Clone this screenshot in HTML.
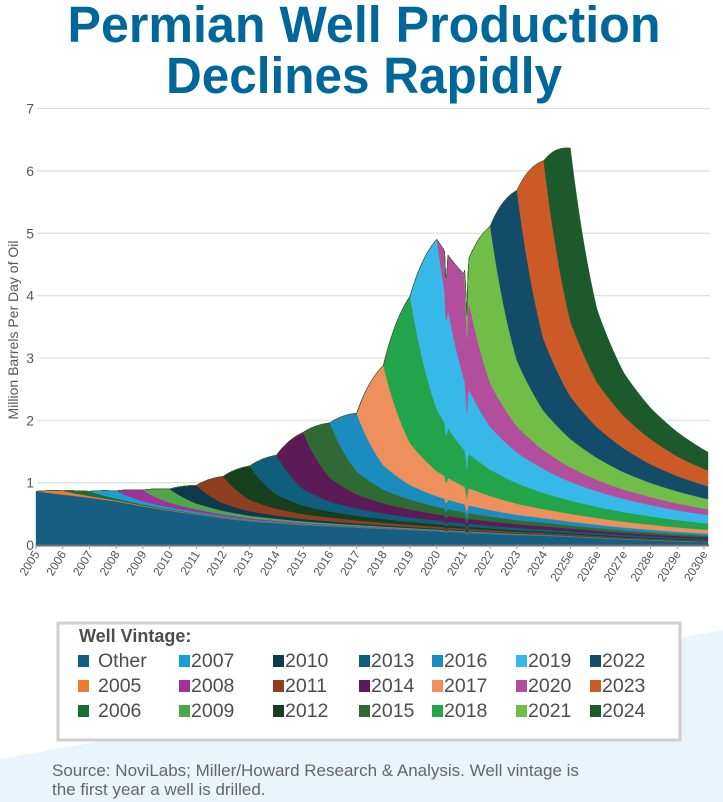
<!DOCTYPE html>
<html><head><meta charset="utf-8">
<style>
html,body{margin:0;padding:0;background:#fff;}
svg{display:block;font-family:"Liberation Sans",sans-serif;}
</style></head>
<body>
<svg id="chart" width="723" height="802" viewBox="0 0 723 802" xmlns="http://www.w3.org/2000/svg">
  <polygon points="0,759 723,630 723,802 0,802" fill="#e9f4fb"/>
  <text x="364" y="42" text-anchor="middle" font-family="'Liberation Sans Narrow','Liberation Sans',sans-serif" font-weight="bold" font-size="51" fill="#00679a" textLength="593" lengthAdjust="spacingAndGlyphs">Permian Well Production</text>
  <text x="364" y="93" text-anchor="middle" font-family="'Liberation Sans Narrow','Liberation Sans',sans-serif" font-weight="bold" font-size="51" fill="#00679a" textLength="396" lengthAdjust="spacingAndGlyphs">Declines Rapidly</text>
  <g id="grid"></g>
  <g id="areas"></g>
  <g id="axes"></g>
  <text transform="translate(18,330) rotate(-90)" text-anchor="middle" font-size="14" fill="#595959">Million Barrels Per Day of Oil</text>
  <rect x="58" y="623" width="622" height="117" fill="#fff" stroke="#cfcfcf" stroke-width="3"/>
  <text x="79" y="642" font-size="18" font-weight="bold" fill="#4d4d4d">Well Vintage:</text>
  <g id="legend"></g>
  <text x="52" y="776" font-size="17" fill="#666">Source: NoviLabs; Miller/Howard Research &amp; Analysis. Well vintage is</text>
  <text x="52" y="795" font-size="17" fill="#666">the first year a well is drilled.</text>
</svg>
<script>
// ---- data ----
const seriesNames = ["Other","2005","2006","2007","2008","2009","2010","2011","2012","2013","2014","2015","2016","2017","2018","2019","2020","2021","2022","2023","2024"];
const seriesColors = ["#175f82","#f07a2e","#1b6b36","#16a0d8","#a3319a","#4ca84a","#0f3a4e","#8f3e1f","#163f1e","#0e5e7e","#5c1b56","#2f6a34","#1a8cc0","#ee905b","#22a54a","#36b8e8","#b24e9c","#70be48","#134c68","#cb5a27","#1c5a2b"];
const otherYears = [2005,2006,2007,2008,2009,2010,2011,2012,2013,2014,2015,2016,2017,2018,2019,2020,2021,2022,2023,2024,2025,2026,2027,2028,2029,2030];
const otherValues = [0.86,0.81,0.76,0.70,0.62,0.55,0.49,0.43,0.38,0.35,0.32,0.30,0.28,0.26,0.24,0.22,0.20,0.18,0.16,0.15,0.13,0.11,0.09,0.075,0.06,0.05];
const vintageYears = [2005,2006,2007,2008,2009,2010,2011,2012,2013,2014,2015,2016,2017,2018,2019,2020,2021,2022,2023,2024];
const vintagePeaks = [0.06,0.075,0.12,0.18,0.22,0.29,0.43,0.545,0.63,0.91,0.88,0.93,1.6,2.36,2.73,1.67,2.52,2.73,2.87,2.78];
const declineRatios = [1,0.42,0.25,0.18,0.14,0.11,0.09,0.077,0.066,0.057,0.05,0.044,0.039,0.035,0.031,0.028,0.025,0.022,0.02,0.018,0.016,0.014,0.013,0.012,0.011,0.01];
const eventYears = [2020.35,2021.12];
const eventFactors = [0.88,0.8];
const yTicks = [0,1,2,3,4,5,6,7];
const xTickLabels = ["2005","2006","2007","2008","2009","2010","2011","2012","2013","2014","2015","2016","2017","2018","2019","2020","2021","2022","2023","2024","2025e","2026e","2027e","2028e","2029e","2030e"];

// ---- axes ----
const X0 = 36, PX_PER_YEAR = 26.72, Y0 = 545, PX_PER_UNIT = 62.35;
const T_START = 2005, T_END = 2030.15;
function xs(t){ return X0 + (t - T_START) * PX_PER_YEAR; }
function ys(v){ return Y0 - v * PX_PER_UNIT; }
const NS = "http://www.w3.org/2000/svg";
function mk(tag, attrs, parent){ const e = document.createElementNS(NS, tag); for (const k in attrs) e.setAttribute(k, attrs[k]); parent.appendChild(e); return e; }

function otherAt(t){
  if (t <= otherYears[0]) return otherValues[0];
  for (let i = 0; i < otherYears.length - 1; i++) {
    if (t <= otherYears[i+1]) { const f = (t - otherYears[i]) / (otherYears[i+1] - otherYears[i]); return otherValues[i] * (1 - f) + otherValues[i+1] * f; }
  }
  return otherValues[otherValues.length - 1];
}
function vintageAt(i, t){
  const Y = vintageYears[i], P = vintagePeaks[i];
  if (t <= Y) return 0;
  const r1 = declineRatios[1];
  if (t <= Y + 1) return P * (1 - Math.pow(r1, t - Y)) / (1 - r1);
  const a = t - Y - 1, k = Math.floor(a), f = a - k;
  const ra = declineRatios[Math.min(k, declineRatios.length - 1)];
  const rb = declineRatios[Math.min(k + 1, declineRatios.length - 1)];
  return P * Math.pow(ra, 1 - f) * Math.pow(rb, f);
}
function eventFactor(t){
  let m = 1;
  for (let i = 0; i < eventYears.length; i++) {
    const d = Math.abs(t - eventYears[i]);
    if (d < 0.06) m *= 1 - (1 - eventFactors[i]) * (1 - d / 0.06);
  }
  return m;
}

// gridlines + y ticks
const grid = document.getElementById('grid');
yTicks.forEach(v => {
  if (v > 0) {
    const l = mk('line', {x1: 37, x2: 710, y1: ys(v), y2: ys(v), stroke: '#dedede', 'stroke-width': 1.2}, grid);
    
    
  }
  const tx = mk('text', {x: 34, y: ys(v) + 5, 'text-anchor': 'end', 'font-size': 14, fill: '#595959'}, grid);
  tx.textContent = v;
  
  
});

// stacked areas
const times = [];
for (let t = T_START; t <= T_END + 1e-9; t += 1/24) times.push(t);
if (times[times.length - 1] < T_END) times.push(T_END);
let lower = times.map(() => 0);
const areas = document.getElementById('areas');
for (let s = 0; s < seriesNames.length; s++) {
  const vals = times.map(t => (s === 0 ? otherAt(t) : vintageAt(s - 1, t)) * eventFactor(t));
  const upper = lower.map((b, j) => b + vals[j]);
  let d = 'M' + times.map((t, j) => xs(t).toFixed(2) + ',' + ys(upper[j]).toFixed(2)).join('L');
  for (let j = times.length - 1; j >= 0; j--) d += 'L' + xs(times[j]).toFixed(2) + ',' + ys(lower[j]).toFixed(2);
  d += 'Z';
  const p = mk('path', {d: d, fill: seriesColors[s], stroke: seriesColors[s], 'stroke-width': 0.4}, areas);
  
  
  lower = upper;
}

// x axis
const axes = document.getElementById('axes');
const base = mk('line', {x1: 36, x2: 709, y1: Y0 + 0.5, y2: Y0 + 0.5, stroke: '#6d6d6d', 'stroke-width': 2}, axes);


xTickLabels.forEach((lab, i) => {
  const x = xs(T_START + i);
  const tk = mk('line', {x1: x, x2: x, y1: Y0, y2: Y0 + 4, stroke: '#9a9a9a', 'stroke-width': 1}, axes);
  
  
  const tx = mk('text', {x: x + 4, y: Y0 + 9, 'text-anchor': 'end', 'font-size': 12, fill: '#555', transform: 'rotate(-58 ' + (x + 4) + ' ' + (Y0 + 9) + ')'}, axes);
  tx.textContent = lab;
  
  
});

// legend (column-major, 3 rows)
const legend = document.getElementById('legend');
const colSquareX = [78, 179, 273, 359, 432, 516, 590];
const rowBase = [667, 692, 717];
seriesNames.forEach((n, i) => {
  const c = Math.floor(i / 3), r = i % 3;
  const sq = mk('rect', {x: colSquareX[c], y: rowBase[r] - 12, width: 11, height: 12, fill: seriesColors[i]}, legend);
  
  
  const tx = mk('text', {x: colSquareX[c] + (c === 0 ? 20 : 12), y: rowBase[r], 'font-size': 19.5, fill: '#4d4d4d'}, legend);
  tx.textContent = n;
  
  
});
</script>
</body></html>
